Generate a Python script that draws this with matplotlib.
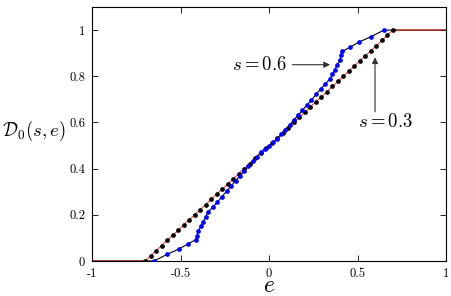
import numpy as np
import matplotlib
matplotlib.use("Agg")
import matplotlib.pyplot as plt

plt.rcParams['mathtext.fontset'] = 'cm'

# s = 0.3 (black dots, red line)
e_s03 = [-0.700, -0.669, -0.638, -0.607, -0.576, -0.544, -0.513, -0.482,
         -0.451, -0.420, -0.389, -0.358, -0.327, -0.296, -0.264, -0.233,
         -0.202, -0.171, -0.140, -0.109, -0.078, -0.047, -0.016, 0.016,
         0.047, 0.078, 0.109, 0.140, 0.171, 0.202, 0.233, 0.264,
         0.296, 0.327, 0.358, 0.389, 0.420, 0.451, 0.482, 0.513,
         0.544, 0.576, 0.607, 0.638, 0.669, 0.700]
d_s03 = [0.000, 0.022, 0.044, 0.067, 0.089, 0.111, 0.133, 0.156,
         0.178, 0.200, 0.222, 0.244, 0.267, 0.289, 0.311, 0.333,
         0.356, 0.378, 0.400, 0.422, 0.444, 0.467, 0.489, 0.511,
         0.533, 0.556, 0.578, 0.600, 0.622, 0.644, 0.667, 0.689,
         0.711, 0.733, 0.756, 0.778, 0.800, 0.822, 0.844, 0.867,
         0.889, 0.911, 0.933, 0.956, 0.978, 1.000]

# s = 0.6 (blue dots, black line)
e_s06 = [-0.650, -0.575, -0.508, -0.456, -0.414, -0.407, -0.399, -0.386,
         -0.372, -0.358, -0.343, -0.318, -0.292, -0.267, -0.240, -0.214,
         -0.189, -0.165, -0.141, -0.117, -0.093, -0.069, -0.046, -0.023,
         0.000,
         0.023, 0.046, 0.069, 0.093, 0.117, 0.141, 0.165, 0.189,
         0.214, 0.240, 0.267, 0.292, 0.318, 0.343, 0.358, 0.372,
         0.386, 0.399, 0.407, 0.414, 0.456, 0.508, 0.575, 0.650]
d_s06 = [0.000, 0.029, 0.052, 0.075, 0.092, 0.110, 0.129, 0.150,
         0.171, 0.192, 0.213, 0.233, 0.255, 0.277, 0.302, 0.325,
         0.347, 0.368, 0.389, 0.410, 0.431, 0.452, 0.471, 0.486,
         0.500,
         0.514, 0.529, 0.548, 0.569, 0.590, 0.611, 0.632, 0.653,
         0.675, 0.698, 0.723, 0.745, 0.767, 0.787, 0.808, 0.829,
         0.850, 0.871, 0.890, 0.908, 0.925, 0.948, 0.971, 1.000]

x_ticks = [-1, -0.5, 0, 0.5, 1]
x_labels = ['-1', '-0.5', '0', '0.5', '1']
y_ticks = [0, 0.2, 0.4, 0.6, 0.8, 1]
y_labels = ['0', '0.2', '0.4', '0.6', '0.8', '1']

fig = plt.figure(figsize=(4.52, 2.96), dpi=100)
ax = fig.add_axes([92/452, 1-261/296, 354/452, 254/296])

# lignes avec les plateaux 0 et 1
ax.plot([-1] + e_s06 + [1], [0] + d_s06 + [1], color='black', lw=0.8, zorder=2)
ax.plot([-1] + e_s03 + [1], [0] + d_s03 + [1], color='red', lw=0.8, alpha=0.75, zorder=3)
ax.plot(e_s03, d_s03, 'o', color='black', ms=3.4, mew=0, zorder=4)
ax.plot(e_s06, d_s06, 'o', color='#0000ff', ms=3.4, mew=0, zorder=4)

ax.set_xlim(-1, 1)
ax.set_ylim(0, 1.1)
ax.set_xticks(x_ticks)
ax.set_xticklabels(x_labels)
ax.set_yticks(y_ticks)
ax.set_yticklabels(y_labels)
ax.tick_params(direction='in', length=4, width=0.6, top=True, right=True,
               labelsize=9, pad=5)
for lab in ax.get_xticklabels() + ax.get_yticklabels():
    lab.set_fontfamily('cmr10')
for sp in ax.spines.values():
    sp.set_linewidth(0.8)

ax.annotate('$s = 0.6$', xy=(0.345, 0.850), xytext=(0.10, 0.850),
            ha='right', va='center', fontsize=13.5,
            arrowprops=dict(arrowstyle='-|>', color='#333333', lw=0.8,
                            mutation_scale=9, shrinkA=2, shrinkB=0))
ax.annotate('', xy=(0.599, 0.882), xytext=(0.599, 0.646),
            arrowprops=dict(arrowstyle='-|>', color='#333333', lw=0.8,
                            mutation_scale=9, shrinkA=0, shrinkB=0))
ax.text(0.66, 0.605, '$s = 0.3$', ha='center', va='center', fontsize=13.5)

fig.text(34/452, 1-131/296, r'$\mathcal{D}_0(s,e)$', ha='center', va='center', fontsize=13.5)
fig.text(269/452, 1-292/296, '$e$', ha='center', va='baseline', fontsize=17)

fig.savefig('out.png', dpi=100)
